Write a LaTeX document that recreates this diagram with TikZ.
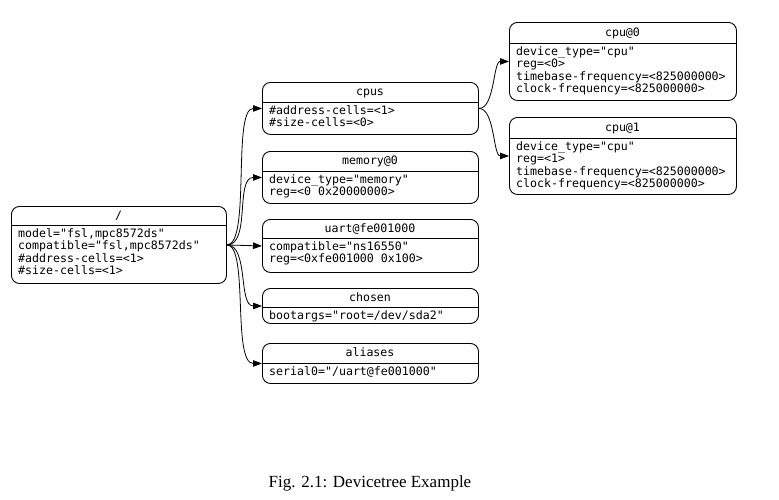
\documentclass[tikz,border=0pt]{standalone}
\usepackage{fontspec}
\newfontfamily\dtfam{DejaVu Sans Mono}
\newfontfamily\capfam{Liberation Serif}
\usetikzlibrary{arrows.meta}
\tikzset{
  dtbox/.style={draw, line width=0.9pt, rounded corners=8pt, inner sep=0pt, anchor=north west},
  dtline/.style={line width=0.9pt},
  dthead/.style={font=\dtfam\fontsize{11.6}{12.5}\selectfont, inner sep=0pt, anchor=base},
  dtbody/.style={font=\dtfam\fontsize{11.6}{12.5}\selectfont, inner sep=0pt, anchor=base west},
  dtedge/.style={line width=0.8pt, -{Triangle[length=9pt,width=6.5pt]}},
}
% name, x1, y1, x2, ysep, y2, title, body
\newcommand\dtnode[8]{%
  \node[dtbox, minimum width={(#4-#2)*1pt}, minimum height={(#6-#3)*1pt}] (#1) at (#2,#3) {};
  \draw[dtline] (#2,#5) -- (#4,#5);
  \node[dthead] (#1-title) at ({(#2+#4)/2},{(#3+#5)/2+3.5}) {#7};
  \node[dtbody] (#1-body) at ({#2+7},{#5+12}) {\begin{tabular}[t]{@{}l@{}}#8\end{tabular}};
}
\begin{document}
\begin{tikzpicture}[x=1pt,y=-1pt]
\useasboundingbox (0,0) rectangle (779,499);
\dtnode{root}{11}{206}{226}{225}{283}{/}{model="fsl,mpc8572ds"\\compatible="fsl,mpc8572ds"\\\#address-cells=<1>\\\#size-cells=<1>}
\dtnode{cpus}{262}{82}{478}{102}{134}{cpus}{\#address-cells=<1>\\\#size-cells=<0>}
\dtnode{memory}{262}{151}{478}{171}{203}{memory@0}{device\_type="memory"\\reg=<0 0x20000000>}
\dtnode{uart}{262}{219}{478}{238}{272}{uart@fe001000}{compatible="ns16550"\\reg=<0xfe001000 0x100>}
\dtnode{chosen}{262}{288}{478}{307}{323}{chosen}{bootargs="root=/dev/sda2"}
\dtnode{aliases}{262}{343}{478}{363}{383}{aliases}{serial0="/uart@fe001000"}
\dtnode{cpu0}{509}{22}{736}{43}{100}{cpu@0}{device\_type="cpu"\\reg=<0>\\timebase-frequency=<825000000>\\clock-frequency=<825000000>}
\dtnode{cpu1}{509}{117}{736}{138}{194}{cpu@1}{device\_type="cpu"\\reg=<1>\\timebase-frequency=<825000000>\\clock-frequency=<825000000>}

\draw[dtedge] (root.east) .. controls +(24,0) and +(-30,0) .. (cpus.west);
\draw[dtedge] (root.east) .. controls +(24,0) and +(-27,0) .. (memory.west);
\draw[dtedge] (root.east) -- (uart.west);
\draw[dtedge] (root.east) .. controls +(22,0) and +(-24,0) .. (chosen.west);
\draw[dtedge] (root.east) .. controls +(22,0) and +(-30,0) .. (aliases.west);
\draw[dtedge] (cpus.east) .. controls +(16,0) and +(-16,0) .. (cpu0.west);
\draw[dtedge] (cpus.east) .. controls +(16,0) and +(-16,0) .. (cpu1.west);

\node[font=\capfam\fontsize{17}{20}\selectfont, inner sep=0pt, anchor=base] (caption) at (370,487) {Fig. 2.1: Devicetree Example};
\end{tikzpicture}
\end{document}
